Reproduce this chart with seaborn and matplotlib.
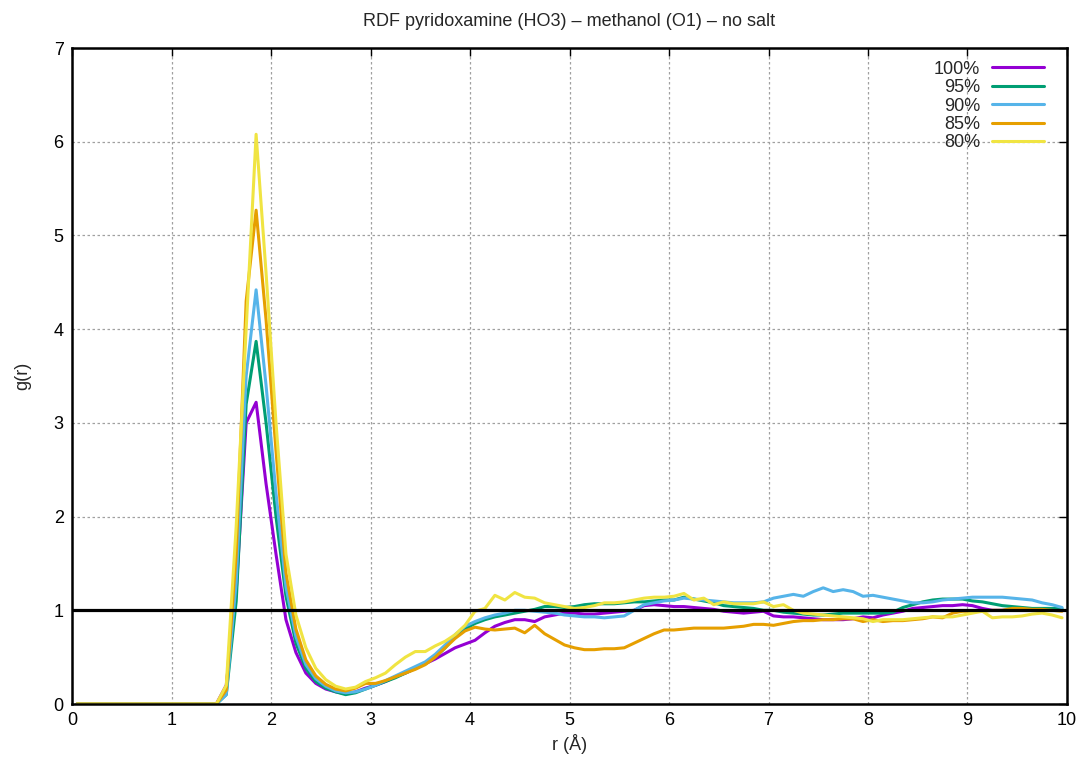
import numpy as np
import pandas as pd
import seaborn as sns
import matplotlib.pyplot as plt

# r grid: bin centres, 0.1 Å wide
r = np.round(np.arange(0.05, 10.0, 0.1), 2)

zeros = [0.0] * 15  # r < 1.5 Å, no density

g_100 = zeros + [
    0.2, 1.2, 3.0, 3.22, 2.35, 1.6, 0.9, 0.55, 0.33, 0.22,
    0.16, 0.13, 0.11, 0.13, 0.17, 0.2, 0.24, 0.29, 0.33, 0.38,
    0.43, 0.48, 0.54, 0.6, 0.64, 0.68, 0.76, 0.83, 0.87, 0.9,
    0.9, 0.88, 0.93, 0.95, 0.97, 0.97, 0.96, 0.96, 0.97, 0.98,
    0.99, 1.0, 1.05, 1.06, 1.05, 1.04, 1.04, 1.03, 1.02, 1.01,
    0.99, 0.98, 0.97, 0.98, 0.99, 0.94, 0.93, 0.93, 0.92, 0.91,
    0.9, 0.9, 0.9, 0.91, 0.93, 0.92, 0.95, 0.97, 0.99, 1.02,
    1.03, 1.04, 1.05, 1.05, 1.06, 1.05, 1.02, 1.0, 1.0, 1.01,
    1.01, 1.01, 1.01, 1.0, 1.0]

g_95 = zeros + [
    0.1, 1.1, 3.2, 3.87, 3.0, 2.0, 1.15, 0.65, 0.38, 0.24,
    0.17, 0.13, 0.1, 0.12, 0.16, 0.2, 0.24, 0.28, 0.33, 0.38,
    0.43, 0.5, 0.6, 0.72, 0.8, 0.86, 0.9, 0.93, 0.95, 0.97,
    0.99, 1.01, 1.04, 1.04, 1.03, 1.04, 1.06, 1.07, 1.07, 1.07,
    1.08, 1.09, 1.09, 1.1, 1.11, 1.11, 1.14, 1.12, 1.1, 1.08,
    1.05, 1.04, 1.03, 1.02, 1.0, 1.0, 0.98, 0.97, 0.96, 0.95,
    0.95, 0.96, 0.97, 0.97, 0.97, 0.97, 0.97, 0.98, 1.03, 1.06,
    1.09, 1.11, 1.12, 1.12, 1.12, 1.1, 1.09, 1.07, 1.05, 1.04,
    1.03, 1.02, 1.02, 1.02, 1.02]

g_90 = zeros + [
    0.1, 1.3, 3.5, 4.42, 3.4, 2.25, 1.25, 0.72, 0.42, 0.27,
    0.19, 0.14, 0.12, 0.13, 0.16, 0.2, 0.25, 0.3, 0.35, 0.4,
    0.45, 0.53, 0.63, 0.74, 0.83, 0.88, 0.92, 0.95, 0.97, 1.0,
    1.0, 0.99, 0.98, 0.97, 0.95, 0.94, 0.93, 0.93, 0.92, 0.93,
    0.94, 1.0, 1.06, 1.08, 1.1, 1.11, 1.13, 1.12, 1.11, 1.1,
    1.09, 1.08, 1.08, 1.08, 1.09, 1.13, 1.15, 1.17, 1.15, 1.2,
    1.24, 1.2, 1.22, 1.2, 1.15, 1.16, 1.14, 1.12, 1.1, 1.08,
    1.08, 1.09, 1.11, 1.12, 1.13, 1.14, 1.14, 1.14, 1.14, 1.13,
    1.12, 1.11, 1.08, 1.06, 1.03]

g_85 = zeros + [
    0.15, 1.6, 4.3, 5.27, 4.1, 2.7, 1.4, 0.8, 0.47, 0.3,
    0.21, 0.16, 0.14, 0.17, 0.22, 0.22, 0.25, 0.29, 0.33, 0.37,
    0.42, 0.5, 0.6, 0.7, 0.78, 0.82, 0.8, 0.79, 0.8, 0.81,
    0.76, 0.84, 0.75, 0.69, 0.63, 0.6, 0.58, 0.58, 0.59, 0.59,
    0.6, 0.65, 0.7, 0.75, 0.79, 0.79, 0.8, 0.81, 0.81, 0.81,
    0.81, 0.82, 0.83, 0.85, 0.85, 0.84, 0.86, 0.88, 0.89, 0.89,
    0.9, 0.9, 0.91, 0.91, 0.88, 0.9, 0.88, 0.89, 0.89, 0.9,
    0.91, 0.93, 0.92, 0.97, 0.99, 0.99, 0.99, 1.0, 1.0, 1.02,
    1.02, 1.01, 1.01, 1.0, 0.99]

g_80 = zeros + [
    0.2, 1.9, 4.0, 6.08, 4.6, 3.0, 1.6, 0.95, 0.6, 0.38,
    0.26, 0.19, 0.16, 0.18, 0.24, 0.28, 0.33, 0.42, 0.5, 0.56,
    0.56, 0.62, 0.67, 0.74, 0.84, 0.99, 1.02, 1.16, 1.11, 1.19,
    1.14, 1.13, 1.08, 1.06, 1.04, 1.02, 1.03, 1.05, 1.08, 1.08,
    1.09, 1.11, 1.13, 1.14, 1.14, 1.15, 1.18, 1.11, 1.13, 1.06,
    1.09, 1.07, 1.07, 1.07, 1.09, 1.04, 1.06, 1.0, 0.97, 0.96,
    0.95, 0.94, 0.93, 0.92, 0.91, 0.88, 0.9, 0.9, 0.9, 0.91,
    0.92, 0.93, 0.93, 0.93, 0.95, 0.97, 0.99, 0.92, 0.93, 0.93,
    0.94, 0.96, 0.97, 0.95, 0.92]

labels = ['100%', '95%', '90%', '85%', '80%']
colors = ['#9400d3', '#009e73', '#56b4e9', '#e69f00', '#f0e442']

df = pd.concat([
    pd.DataFrame({'r': r, 'g': g, 'conc': lab})
    for g, lab in zip([g_100, g_95, g_90, g_85, g_80], labels)
])

sns.set_style('white')
plt.rcParams['font.family'] = ['Liberation Sans', 'DejaVu Sans']

fig = plt.figure(figsize=(10.85, 7.63), dpi=100)
ax = fig.add_axes([0.0664, 0.0773, 0.917, 0.8597])

sns.lineplot(data=df, x='r', y='g', hue='conc', hue_order=labels,
             palette=dict(zip(labels, colors)), linewidth=2.2,
             errorbar=None, sort=False, legend=False, ax=ax)
ax.axhline(1, color='black', linewidth=2.3, zorder=5)

ax.set_xlim(0, 10)
ax.set_ylim(0, 7)
ax.set_xticks(range(0, 11))
ax.set_yticks(range(0, 8))
ax.grid(True, color='#a0a0a0', linestyle=(0, (2, 2)), linewidth=0.9)
ax.set_axisbelow(True)
ax.tick_params(direction='in', length=6, width=1, top=True, right=True,
               labelsize=13, colors='black', pad=6)
for s in ax.spines.values():
    s.set_linewidth(1.8)
    s.set_color('black')

ax.set_title('RDF pyridoxamine (HO3) – methanol (O1) – no salt',
             fontsize=13, pad=16)
ax.set_xlabel('r (Å)', fontsize=13, labelpad=3)
ax.set_ylabel('g(r)', fontsize=13, labelpad=16)

ax.legend(ax.lines[:5], labels, loc='upper right', frameon=False,
          markerfirst=False, fontsize=13, handlelength=2.9,
          handletextpad=0.65, labelspacing=0.08, borderaxespad=0.3,
          bbox_to_anchor=(0.99, 1.0))

fig.savefig('out.png', dpi=100)
